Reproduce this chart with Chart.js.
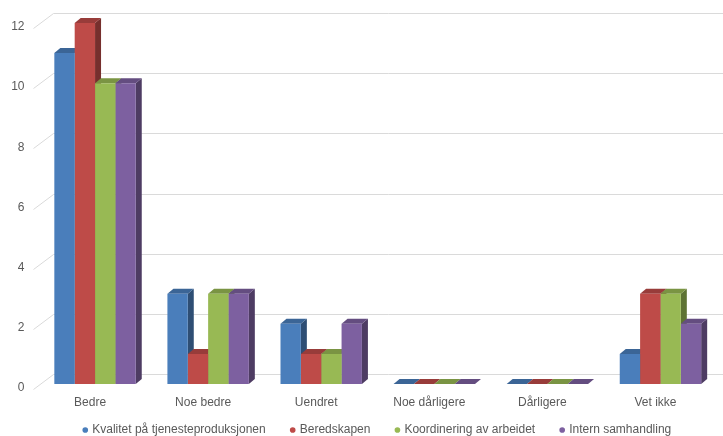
<!DOCTYPE html>
<html>
<head>
<meta charset="utf-8">
<script src="https://cdn.jsdelivr.net/npm/chart.js@4/dist/chart.umd.min.js"></script>
<style>
  html, body { margin: 0; padding: 0; background: #fff; }
  #wrap { width: 723px; height: 436px; position: relative; }
</style>
</head>
<body>
<div id="wrap"><canvas id="barChart"></canvas></div>
<script>
const categories = ['Bedre', 'Noe bedre', 'Uendret', 'Noe dårligere', 'Dårligere', 'Vet ikke'];
const seriesNames = ['Kvalitet på tjenesteproduksjonen', 'Beredskapen', 'Koordinering av arbeidet', 'Intern samhandling'];
const kvalitet = [11, 3, 2, 0, 0, 1];
const beredskapen = [12, 1, 1, 0, 0, 3];
const koordinering = [10, 3, 1, 0, 0, 3];
const internSamhandling = [10, 3, 2, 0, 0, 2];
const yTicks = [0, 2, 4, 6, 8, 10, 12];

const palette = ['#4a7ebb', '#be4b48', '#98b954', '#7d60a0'];
const DX = 6, DY = 5; // fake 3d depth

function shade(hex, f) {
  const n = parseInt(hex.slice(1), 16);
  const c = [(n >> 16) & 255, (n >> 8) & 255, n & 255].map(v => Math.round(v * f));
  return `rgb(${c[0]}, ${c[1]}, ${c[2]})`;
}

// back wall grid + side/top faces of the bars, drawn under the bar fronts
const depthPlugin = {
  id: 'depth3d',
  beforeDatasetsDraw(chart) {
    const { ctx, chartArea } = chart;
    const y = chart.scales.y;
    ctx.save();
    ctx.strokeStyle = '#dadada';
    ctx.lineWidth = 1;
    y.ticks.forEach(t => {
      const py = Math.round(y.getPixelForValue(t.value)) + 0.5;
      ctx.beginPath();
      ctx.moveTo(chartArea.left - 5, py + 5);
      ctx.lineTo(chartArea.left + 15, py - 10);
      ctx.lineTo(chart.width, py - 10);
      ctx.stroke();
    });

    const metas = chart.getSortedVisibleDatasetMetas();
    for (let i = 0; i < categories.length; i++) {
      metas.forEach((meta, d) => {
        const bar = meta.data[i];
        const { x, y: top, base, width } = bar.getProps(['x', 'y', 'base', 'width'], true);
        const L = x - width / 2, R = x + width / 2;
        ctx.fillStyle = shade(palette[d], 0.62);
        ctx.beginPath();
        ctx.moveTo(R, top);
        ctx.lineTo(R + DX, top - DY);
        ctx.lineTo(R + DX, base - DY);
        ctx.lineTo(R, base);
        ctx.closePath();
        ctx.fill();
        ctx.fillStyle = shade(palette[d], 0.8);
        ctx.beginPath();
        ctx.moveTo(L, top);
        ctx.lineTo(L + DX, top - DY);
        ctx.lineTo(R + DX, top - DY);
        ctx.lineTo(R, top);
        ctx.closePath();
        ctx.fill();
      });
    }
    ctx.restore();
  }
};

const seriesData = [kvalitet, beredskapen, koordinering, internSamhandling];
const font = { family: "'Liberation Sans', Arial, sans-serif", size: 12 };

const ctx = document.getElementById('barChart').getContext('2d');
const chart = new Chart(ctx, {
  type: 'bar',
  data: {
    labels: categories,
    datasets: seriesData.map((values, i) => ({
      label: seriesNames[i],
      data: values,
      backgroundColor: palette[i],
      borderWidth: 0,
      categoryPercentage: 0.72,
      barPercentage: 1.0
    }))
  },
  options: {
    responsive: true,
    maintainAspectRatio: false,
    animation: false,
    // negative bottom padding pushes the legend row down to the canvas edge
    layout: { padding: { top: 23, right: 6, left: 0, bottom: -10 } },
    plugins: {
      legend: {
        position: 'bottom',
        fullSize: false,
        labels: {
          usePointStyle: true,
          pointStyle: 'circle',
          boxWidth: 2,
          boxHeight: 4,
          padding: 26,
          color: '#595959',
          font: font
        }
      },
      tooltip: { enabled: false }
    },
    scales: {
      x: {
        grid: { display: false, drawTicks: false },
        border: { display: false },
        // mirror keeps the labels from being clipped to the (thin) axis box
        ticks: { color: '#595959', font: font, mirror: true, padding: -26, labelOffset: -5, maxRotation: 0 },
        afterFit(scale) { scale.height = 14; }
      },
      y: {
        min: 0,
        max: 12,
        afterBuildTicks(scale) { scale.ticks = yTicks.map(v => ({ value: v })); },
        grid: { display: false, drawTicks: false },
        border: { display: false },
        ticks: { color: '#595959', font: font, padding: 14, labelOffset: 4 },
        afterFit(scale) { scale.width = 38.5; }
      }
    }
  },
  plugins: [depthPlugin]
});
</script>
</body>
</html>
